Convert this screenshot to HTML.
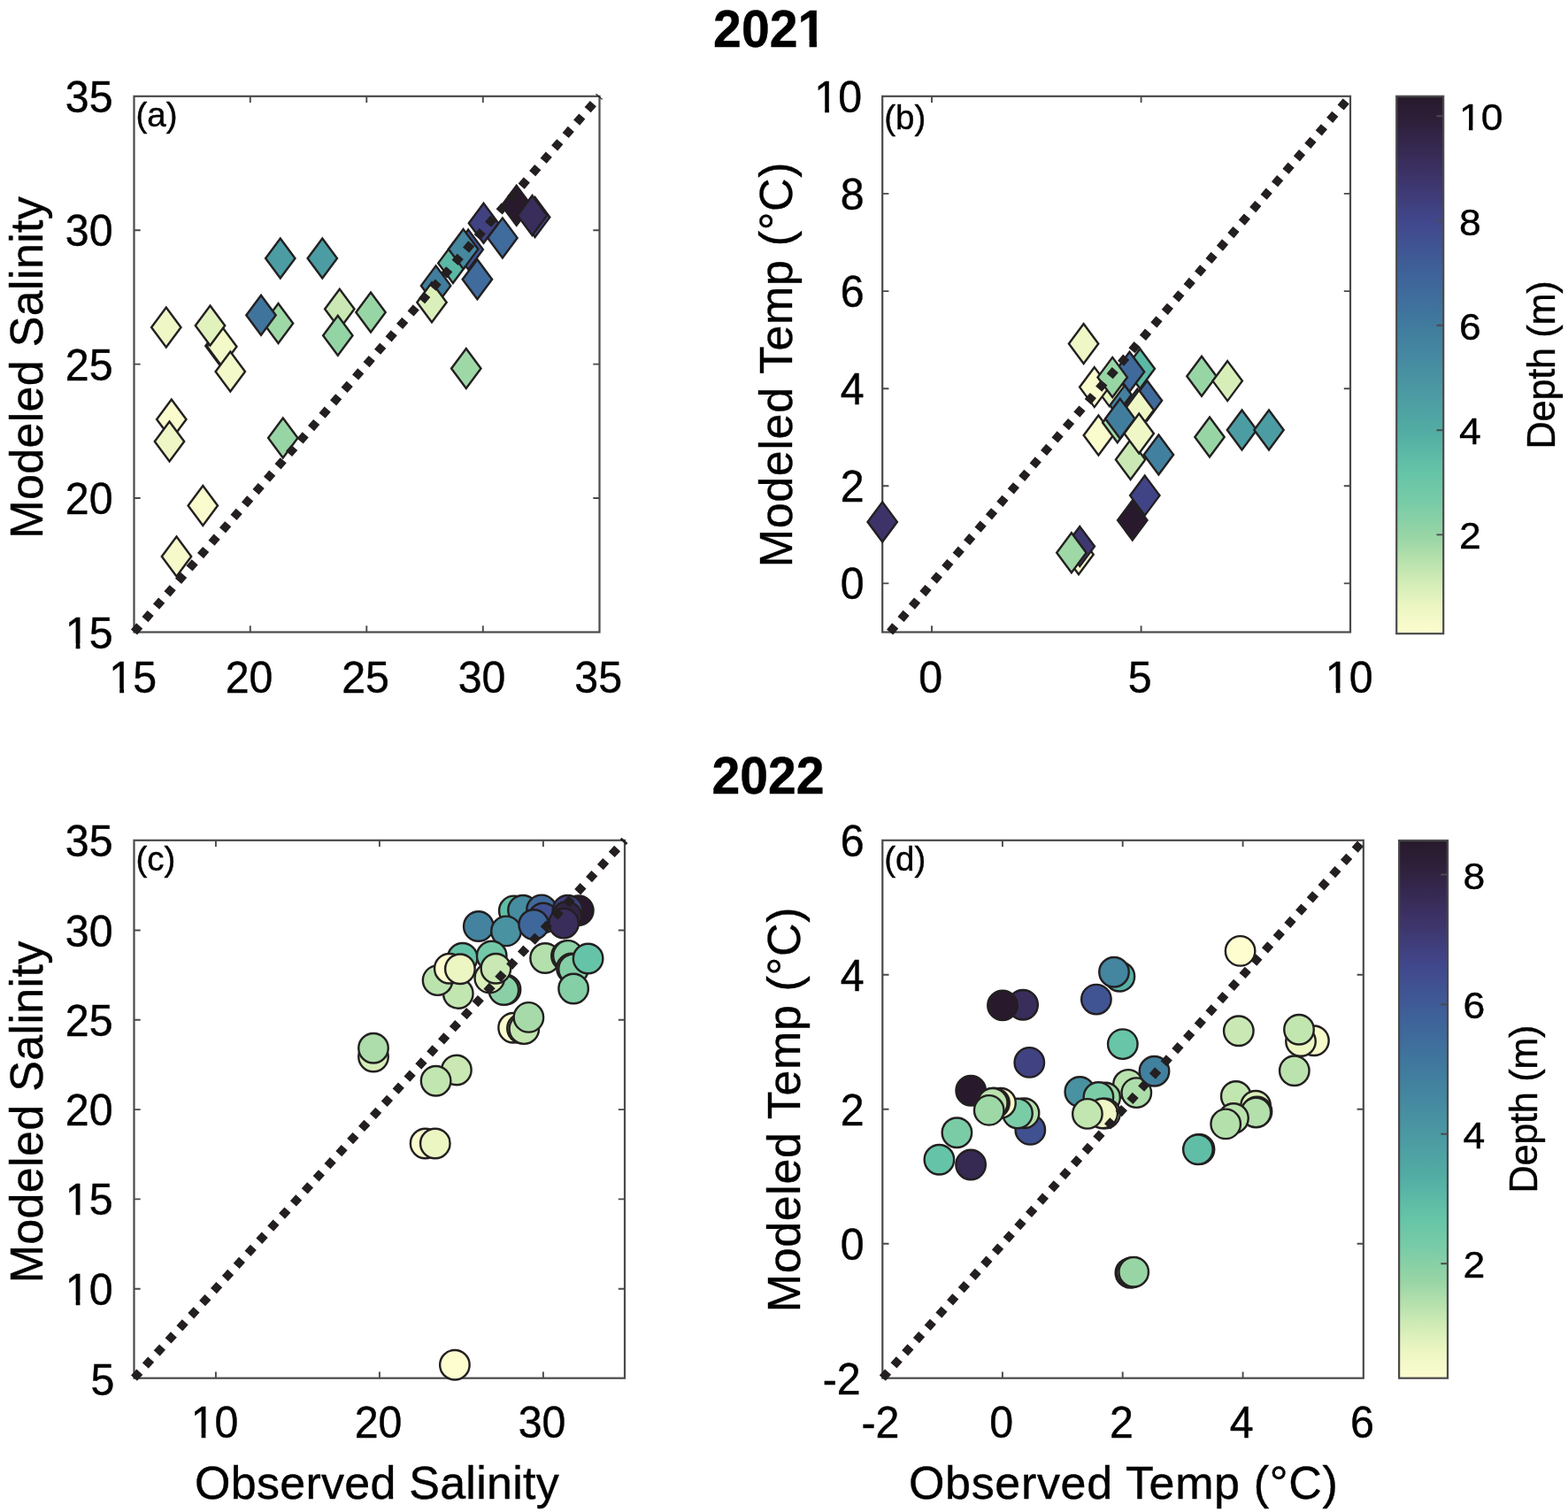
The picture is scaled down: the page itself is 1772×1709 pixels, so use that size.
<!DOCTYPE html>
<html lang="en">
<head>
<meta charset="utf-8">
<title>Modeled vs observed salinity and temperature, 2021 and 2022</title>
<style>
html,body{margin:0;padding:0;background:#fff;}
body{width:1772px;height:1709px;overflow:hidden;}
svg{display:block;}
text{white-space:pre;}
</style>
</head>
<body>
<svg width="1772" height="1709" viewBox="0 0 1772 1709">
<rect width="1772" height="1709" fill="#fff"/>
<g font-family='"Liberation Sans", Arial, Helvetica, sans-serif' fill="#000" stroke="#000" stroke-width="0.4">
<g transform="translate(869.7 52.8) scale(1 1.025)"><text font-size="57.2" text-anchor="middle" font-weight="bold">2021</text><rect x="34.41" y="-7.04" width="10.50" height="8.84" fill="#fff" stroke="none"/><rect x="53.26" y="-7.04" width="9.77" height="8.84" fill="#fff" stroke="none"/></g>
<g transform="translate(868.0 897.1) scale(1 1.025)"><text font-size="57.2" text-anchor="middle" font-weight="bold">2022</text></g>
<rect x="151.5" y="108.8" width="526.00" height="605.70" fill="none" stroke="#4a4a4c" stroke-width="2.2"/>
<path d="M282.8 714.5v-7.2M282.8 108.8v7.2M414.3 714.5v-7.2M414.3 108.8v7.2M545.8 714.5v-7.2M545.8 108.8v7.2M151.5 260.2h7.2M677.5 260.2h-7.2M151.5 411.6h7.2M677.5 411.6h-7.2M151.5 563.0h7.2M677.5 563.0h-7.2" fill="none" stroke="#4a4a4c" stroke-width="1.9"/>
<g transform="translate(150.2 782.65) scale(1 1.04)"><text font-size="48.3" text-anchor="middle" font-weight="normal">15</text><rect x="-24.18" y="-4.81" width="9.22" height="6.61" fill="#fff" stroke="none"/><rect x="-10.20" y="-4.81" width="8.84" height="6.61" fill="#fff" stroke="none"/></g>
<g transform="translate(281.5 782.65) scale(1 1.04)"><text font-size="48.3" text-anchor="middle" font-weight="normal">20</text></g>
<g transform="translate(413.0 782.65) scale(1 1.04)"><text font-size="48.3" text-anchor="middle" font-weight="normal">25</text></g>
<g transform="translate(544.5 782.65) scale(1 1.04)"><text font-size="48.3" text-anchor="middle" font-weight="normal">30</text></g>
<g transform="translate(676.2 782.65) scale(1 1.04)"><text font-size="48.3" text-anchor="middle" font-weight="normal">35</text></g>
<g transform="translate(127.5 126.8) scale(1 1.04)"><text font-size="48.3" text-anchor="end" font-weight="normal">35</text></g>
<g transform="translate(127.5 278.2) scale(1 1.04)"><text font-size="48.3" text-anchor="end" font-weight="normal">30</text></g>
<g transform="translate(127.5 429.6) scale(1 1.04)"><text font-size="48.3" text-anchor="end" font-weight="normal">25</text></g>
<g transform="translate(127.5 581.0) scale(1 1.04)"><text font-size="48.3" text-anchor="end" font-weight="normal">20</text></g>
<g transform="translate(127.5 732.5) scale(1 1.04)"><text font-size="48.3" text-anchor="end" font-weight="normal">15</text><rect x="-51.05" y="-4.81" width="9.22" height="6.61" fill="#fff" stroke="none"/><rect x="-37.06" y="-4.81" width="8.84" height="6.61" fill="#fff" stroke="none"/></g>
<g transform="translate(48 415.3) rotate(-90)"><text font-size="52" text-anchor="middle" font-weight="normal" letter-spacing="0.33">Modeled Salinity</text></g>
<g transform="translate(153.4 142.7)"><text font-size="38.5" text-anchor="start" font-weight="normal">(a)</text></g>
<rect x="997.2" y="108.8" width="528.80" height="605.70" fill="none" stroke="#4a4a4c" stroke-width="2.2"/>
<path d="M1053.0 714.5v-7.2M1053.0 108.8v7.2M1289.6 714.5v-7.2M1289.6 108.8v7.2M997.2 218.9h7.2M1526.0 218.9h-7.2M997.2 329.1h7.2M1526.0 329.1h-7.2M997.2 439.2h7.2M1526.0 439.2h-7.2M997.2 549.3h7.2M1526.0 549.3h-7.2M997.2 659.4h7.2M1526.0 659.4h-7.2" fill="none" stroke="#4a4a4c" stroke-width="1.9"/>
<g transform="translate(1051.7 782.65) scale(1 1.04)"><text font-size="48.3" text-anchor="middle" font-weight="normal">0</text></g>
<g transform="translate(1288.3 782.65) scale(1 1.04)"><text font-size="48.3" text-anchor="middle" font-weight="normal">5</text></g>
<g transform="translate(1524.7 782.65) scale(1 1.04)"><text font-size="48.3" text-anchor="middle" font-weight="normal">10</text><rect x="-24.18" y="-4.81" width="9.22" height="6.61" fill="#fff" stroke="none"/><rect x="-10.20" y="-4.81" width="8.84" height="6.61" fill="#fff" stroke="none"/></g>
<g transform="translate(974.0 126.8) scale(1 1.04)"><text font-size="48.3" text-anchor="end" font-weight="normal">10</text><rect x="-51.05" y="-4.81" width="9.22" height="6.61" fill="#fff" stroke="none"/><rect x="-37.06" y="-4.81" width="8.84" height="6.61" fill="#fff" stroke="none"/></g>
<g transform="translate(976.5 236.9) scale(1 1.04)"><text font-size="48.3" text-anchor="end" font-weight="normal">8</text></g>
<g transform="translate(976.5 347.1) scale(1 1.04)"><text font-size="48.3" text-anchor="end" font-weight="normal">6</text></g>
<g transform="translate(976.5 457.2) scale(1 1.04)"><text font-size="48.3" text-anchor="end" font-weight="normal">4</text></g>
<g transform="translate(976.5 567.3) scale(1 1.04)"><text font-size="48.3" text-anchor="end" font-weight="normal">2</text></g>
<g transform="translate(976.5 677.4) scale(1 1.04)"><text font-size="48.3" text-anchor="end" font-weight="normal">0</text></g>
<g transform="translate(894.8 412.0) rotate(-90)"><text font-size="52" text-anchor="middle" font-weight="normal" letter-spacing="0.64">Modeled Temp (°C)</text></g>
<g transform="translate(999.3 146.2)"><text font-size="38.5" text-anchor="start" font-weight="normal">(b)</text></g>
<rect x="151.5" y="949.8" width="554.50" height="607.90" fill="none" stroke="#4a4a4c" stroke-width="2.2"/>
<path d="M243.9 1557.7v-7.2M243.9 949.8v7.2M428.9 1557.7v-7.2M428.9 949.8v7.2M613.9 1557.7v-7.2M613.9 949.8v7.2M151.5 1051.5h7.2M706.0 1051.5h-7.2M151.5 1152.8h7.2M706.0 1152.8h-7.2M151.5 1254.1h7.2M706.0 1254.1h-7.2M151.5 1355.4h7.2M706.0 1355.4h-7.2M151.5 1456.7h7.2M706.0 1456.7h-7.2" fill="none" stroke="#4a4a4c" stroke-width="1.9"/>
<g transform="translate(242.6 1625.25) scale(1 1.04)"><text font-size="48.3" text-anchor="middle" font-weight="normal">10</text><rect x="-24.18" y="-4.81" width="9.22" height="6.61" fill="#fff" stroke="none"/><rect x="-10.20" y="-4.81" width="8.84" height="6.61" fill="#fff" stroke="none"/></g>
<g transform="translate(427.6 1625.25) scale(1 1.04)"><text font-size="48.3" text-anchor="middle" font-weight="normal">20</text></g>
<g transform="translate(612.6 1625.25) scale(1 1.04)"><text font-size="48.3" text-anchor="middle" font-weight="normal">30</text></g>
<g transform="translate(127.5 967.8) scale(1 1.04)"><text font-size="48.3" text-anchor="end" font-weight="normal">35</text></g>
<g transform="translate(127.5 1069.5) scale(1 1.04)"><text font-size="48.3" text-anchor="end" font-weight="normal">30</text></g>
<g transform="translate(127.5 1170.8) scale(1 1.04)"><text font-size="48.3" text-anchor="end" font-weight="normal">25</text></g>
<g transform="translate(127.5 1272.1) scale(1 1.04)"><text font-size="48.3" text-anchor="end" font-weight="normal">20</text></g>
<g transform="translate(127.5 1373.4) scale(1 1.04)"><text font-size="48.3" text-anchor="end" font-weight="normal">15</text><rect x="-51.05" y="-4.81" width="9.22" height="6.61" fill="#fff" stroke="none"/><rect x="-37.06" y="-4.81" width="8.84" height="6.61" fill="#fff" stroke="none"/></g>
<g transform="translate(127.5 1474.7) scale(1 1.04)"><text font-size="48.3" text-anchor="end" font-weight="normal">10</text><rect x="-51.05" y="-4.81" width="9.22" height="6.61" fill="#fff" stroke="none"/><rect x="-37.06" y="-4.81" width="8.84" height="6.61" fill="#fff" stroke="none"/></g>
<g transform="translate(129.3 1576.7) scale(1 1.04)"><text font-size="48.3" text-anchor="end" font-weight="normal">5</text></g>
<g transform="translate(48 1256.9) rotate(-90)"><text font-size="52" text-anchor="middle" font-weight="normal" letter-spacing="0.33">Modeled Salinity</text></g>
<g transform="translate(426.0 1694.2)"><text font-size="52" text-anchor="middle" font-weight="normal" letter-spacing="0.25">Observed Salinity</text></g>
<g transform="translate(153.4 984.2)"><text font-size="38.5" text-anchor="start" font-weight="normal">(c)</text></g>
<rect x="997.3" y="949.8" width="543.50" height="607.90" fill="none" stroke="#4a4a4c" stroke-width="2.2"/>
<path d="M1132.9 1557.7v-7.2M1132.9 949.8v7.2M1268.7 1557.7v-7.2M1268.7 949.8v7.2M1404.6 1557.7v-7.2M1404.6 949.8v7.2M997.3 1101.8h7.2M1540.8 1101.8h-7.2M997.3 1253.8h7.2M1540.8 1253.8h-7.2M997.3 1405.7h7.2M1540.8 1405.7h-7.2" fill="none" stroke="#4a4a4c" stroke-width="1.9"/>
<g transform="translate(995.0 1625.25) scale(1 1.04)"><text font-size="48.3" text-anchor="middle" font-weight="normal">-2</text></g>
<g transform="translate(1131.6 1625.25) scale(1 1.04)"><text font-size="48.3" text-anchor="middle" font-weight="normal">0</text></g>
<g transform="translate(1267.4 1625.25) scale(1 1.04)"><text font-size="48.3" text-anchor="middle" font-weight="normal">2</text></g>
<g transform="translate(1403.3 1625.25) scale(1 1.04)"><text font-size="48.3" text-anchor="middle" font-weight="normal">4</text></g>
<g transform="translate(1539.5 1625.25) scale(1 1.04)"><text font-size="48.3" text-anchor="middle" font-weight="normal">6</text></g>
<g transform="translate(976.5 967.8) scale(1 1.04)"><text font-size="48.3" text-anchor="end" font-weight="normal">6</text></g>
<g transform="translate(976.5 1119.8) scale(1 1.04)"><text font-size="48.3" text-anchor="end" font-weight="normal">4</text></g>
<g transform="translate(976.5 1271.8) scale(1 1.04)"><text font-size="48.3" text-anchor="end" font-weight="normal">2</text></g>
<g transform="translate(976.5 1423.7) scale(1 1.04)"><text font-size="48.3" text-anchor="end" font-weight="normal">0</text></g>
<g transform="translate(972.7 1575.7) scale(1 1.04)"><text font-size="48.3" text-anchor="end" font-weight="normal">-2</text></g>
<g transform="translate(904.4 1254.1) rotate(-90)"><text font-size="52" text-anchor="middle" font-weight="normal" letter-spacing="0.64">Modeled Temp (°C)</text></g>
<g transform="translate(1269.7 1694.2)"><text font-size="52" text-anchor="middle" font-weight="normal" letter-spacing="0.66">Observed Temp (°C)</text></g>
<g transform="translate(999.3 984.2)"><text font-size="38.5" text-anchor="start" font-weight="normal">(d)</text></g>
<defs><linearGradient id="g1578108" x1="0" y1="1" x2="0" y2="0"><stop offset="0.000" stop-color="#fdfdd0"/><stop offset="0.050" stop-color="#ecf6c3"/><stop offset="0.100" stop-color="#d0ebb5"/><stop offset="0.140" stop-color="#b4e0ac"/><stop offset="0.180" stop-color="#98d5a5"/><stop offset="0.240" stop-color="#7acca7"/><stop offset="0.300" stop-color="#65c4a7"/><stop offset="0.377" stop-color="#52aca4"/><stop offset="0.470" stop-color="#4994a2"/><stop offset="0.572" stop-color="#407b9e"/><stop offset="0.670" stop-color="#3e629a"/><stop offset="0.767" stop-color="#41478c"/><stop offset="0.860" stop-color="#3c3164"/><stop offset="0.960" stop-color="#2d1e37"/><stop offset="1.000" stop-color="#281a2c"/></linearGradient></defs>
<rect x="1578.2" y="108.8" width="53.00" height="607.40" fill="url(#g1578108)" stroke="#4a4a4c" stroke-width="2.2"/>
<path d="M1631.2 131.2h-7.7M1631.2 249.6h-7.7M1631.2 367.8h-7.7M1631.2 486.2h-7.7M1631.2 604.4h-7.7" fill="none" stroke="#4a4a4c" stroke-width="1.9"/>
<g transform="translate(1649 147.2) scale(1 0.95)"><text font-size="44.5" text-anchor="start" font-weight="normal">10</text><rect x="2.39" y="-4.52" width="8.55" height="6.32" fill="#fff" stroke="none"/><rect x="15.37" y="-4.52" width="8.20" height="6.32" fill="#fff" stroke="none"/></g>
<g transform="translate(1649 265.6) scale(1 0.95)"><text font-size="44.5" text-anchor="start" font-weight="normal">8</text></g>
<g transform="translate(1649 383.8) scale(1 0.95)"><text font-size="44.5" text-anchor="start" font-weight="normal">6</text></g>
<g transform="translate(1649 502.2) scale(1 0.95)"><text font-size="44.5" text-anchor="start" font-weight="normal">4</text></g>
<g transform="translate(1649 620.4) scale(1 0.95)"><text font-size="44.5" text-anchor="start" font-weight="normal">2</text></g>
<g transform="translate(1756.6 412.5) rotate(-90)"><text font-size="43.5" text-anchor="middle" font-weight="normal" letter-spacing="-0.4">Depth (m)</text></g>
<defs><linearGradient id="g1581950" x1="0" y1="1" x2="0" y2="0"><stop offset="0.000" stop-color="#fdfdd0"/><stop offset="0.050" stop-color="#ecf6c3"/><stop offset="0.100" stop-color="#d0ebb5"/><stop offset="0.140" stop-color="#b4e0ac"/><stop offset="0.180" stop-color="#98d5a5"/><stop offset="0.240" stop-color="#7acca7"/><stop offset="0.300" stop-color="#65c4a7"/><stop offset="0.377" stop-color="#52aca4"/><stop offset="0.470" stop-color="#4994a2"/><stop offset="0.572" stop-color="#407b9e"/><stop offset="0.670" stop-color="#3e629a"/><stop offset="0.767" stop-color="#41478c"/><stop offset="0.860" stop-color="#3c3164"/><stop offset="0.960" stop-color="#2d1e37"/><stop offset="1.000" stop-color="#281a2c"/></linearGradient></defs>
<rect x="1581.1" y="950.0" width="54.90" height="607.70" fill="url(#g1581950)" stroke="#4a4a4c" stroke-width="2.2"/>
<path d="M1636.0 988.5h-7.7M1636.0 1135.2h-7.7M1636.0 1281.7h-7.7M1636.0 1428.3h-7.7" fill="none" stroke="#4a4a4c" stroke-width="1.9"/>
<g transform="translate(1653.5 1004.5) scale(1 0.95)"><text font-size="44.5" text-anchor="start" font-weight="normal">8</text></g>
<g transform="translate(1653.5 1151.2) scale(1 0.95)"><text font-size="44.5" text-anchor="start" font-weight="normal">6</text></g>
<g transform="translate(1653.5 1297.7) scale(1 0.95)"><text font-size="44.5" text-anchor="start" font-weight="normal">4</text></g>
<g transform="translate(1653.5 1444.3) scale(1 0.95)"><text font-size="44.5" text-anchor="start" font-weight="normal">2</text></g>
<g transform="translate(1736.6 1253.7) rotate(-90)"><text font-size="43.5" text-anchor="middle" font-weight="normal" letter-spacing="-0.4">Depth (m)</text></g>
</g>
<g stroke="#231f20" stroke-width="2.4" stroke-linejoin="miter">
<path d="M187.8 347.5l16.7 22.5l-16.7 22.5l-16.7 -22.5z" fill="#eff7c6"/>
<path d="M249.0 368.5l16.7 22.5l-16.7 22.5l-16.7 -22.5z" fill="#f3f9c8"/>
<path d="M250.8 369.3l16.7 22.5l-16.7 22.5l-16.7 -22.5z" fill="#f3f9c8"/>
<path d="M237.5 345.5l16.7 22.5l-16.7 22.5l-16.7 -22.5z" fill="#e1f2bd"/>
<path d="M260.3 397.5l16.7 22.5l-16.7 22.5l-16.7 -22.5z" fill="#f3f9c8"/>
<path d="M314.5 343.0l16.7 22.5l-16.7 22.5l-16.7 -22.5z" fill="#9fd8a7"/>
<path d="M295.0 333.8l16.7 22.5l-16.7 22.5l-16.7 -22.5z" fill="#3f749d"/>
<path d="M316.8 269.5l16.7 22.5l-16.7 22.5l-16.7 -22.5z" fill="#4c9ca3"/>
<path d="M364.3 269.5l16.7 22.5l-16.7 22.5l-16.7 -22.5z" fill="#4c9ca3"/>
<path d="M383.8 326.8l16.7 22.5l-16.7 22.5l-16.7 -22.5z" fill="#c9e8b3"/>
<path d="M381.8 356.8l16.7 22.5l-16.7 22.5l-16.7 -22.5z" fill="#93d4a5"/>
<path d="M419.0 330.5l16.7 22.5l-16.7 22.5l-16.7 -22.5z" fill="#98d5a5"/>
<path d="M193.8 451.5l16.7 22.5l-16.7 22.5l-16.7 -22.5z" fill="#fafccd"/>
<path d="M191.5 476.5l16.7 22.5l-16.7 22.5l-16.7 -22.5z" fill="#eff7c6"/>
<path d="M229.3 549.0l16.7 22.5l-16.7 22.5l-16.7 -22.5z" fill="#fafccd"/>
<path d="M199.5 606.5l16.7 22.5l-16.7 22.5l-16.7 -22.5z" fill="#f6facb"/>
<path d="M319.8 472.5l16.7 22.5l-16.7 22.5l-16.7 -22.5z" fill="#98d5a5"/>
<path d="M526.8 394.0l16.7 22.5l-16.7 22.5l-16.7 -22.5z" fill="#9fd8a7"/>
<path d="M492.6 300.4l16.7 22.5l-16.7 22.5l-16.7 -22.5z" fill="#417e9e"/>
<path d="M488.0 319.2l16.7 22.5l-16.7 22.5l-16.7 -22.5z" fill="#dbefbb"/>
<path d="M511.9 274.9l16.7 22.5l-16.7 22.5l-16.7 -22.5z" fill="#5bb8a5"/>
<path d="M529.2 259.6l16.7 22.5l-16.7 22.5l-16.7 -22.5z" fill="#405493"/>
<path d="M523.6 259.1l16.7 22.5l-16.7 22.5l-16.7 -22.5z" fill="#4588a0"/>
<path d="M539.4 293.2l16.7 22.5l-16.7 22.5l-16.7 -22.5z" fill="#3f6c9c"/>
<path d="M546.5 229.8l16.7 22.5l-16.7 22.5l-16.7 -22.5z" fill="#404282"/>
<path d="M567.9 246.4l16.7 22.5l-16.7 22.5l-16.7 -22.5z" fill="#3f6c9c"/>
<path d="M583.7 209.8l16.7 22.5l-16.7 22.5l-16.7 -22.5z" fill="#281a2c"/>
<path d="M604.6 223.0l16.7 22.5l-16.7 22.5l-16.7 -22.5z" fill="#41498d"/>
<path d="M601.5 221.0l16.7 22.5l-16.7 22.5l-16.7 -22.5z" fill="#392d5b"/>
<path d="M997.2 567.4l16.7 22.5l-16.7 22.5l-16.7 -22.5z" fill="#3d3368"/>
<path d="M1224.6 366.0l16.7 22.5l-16.7 22.5l-16.7 -22.5z" fill="#eff7c6"/>
<path d="M1262.0 423.5l16.7 22.5l-16.7 22.5l-16.7 -22.5z" fill="#42809f"/>
<path d="M1253.6 414.1l16.7 22.5l-16.7 22.5l-16.7 -22.5z" fill="#e6f4c0"/>
<path d="M1236.8 415.1l16.7 22.5l-16.7 22.5l-16.7 -22.5z" fill="#fafccd"/>
<path d="M1288.3 394.2l16.7 22.5l-16.7 22.5l-16.7 -22.5z" fill="#5bb8a5"/>
<path d="M1276.5 397.8l16.7 22.5l-16.7 22.5l-16.7 -22.5z" fill="#3f6a9b"/>
<path d="M1257.2 403.9l16.7 22.5l-16.7 22.5l-16.7 -22.5z" fill="#98d5a5"/>
<path d="M1296.4 430.3l16.7 22.5l-16.7 22.5l-16.7 -22.5z" fill="#3f6a9b"/>
<path d="M1285.2 439.8l16.7 22.5l-16.7 22.5l-16.7 -22.5z" fill="#3f749d"/>
<path d="M1287.2 441.0l16.7 22.5l-16.7 22.5l-16.7 -22.5z" fill="#eff7c6"/>
<path d="M1241.4 469.5l16.7 22.5l-16.7 22.5l-16.7 -22.5z" fill="#fafccd"/>
<path d="M1262.8 455.3l16.7 22.5l-16.7 22.5l-16.7 -22.5z" fill="#9fd8a7"/>
<path d="M1265.8 450.7l16.7 22.5l-16.7 22.5l-16.7 -22.5z" fill="#417e9e"/>
<path d="M1277.6 497.0l16.7 22.5l-16.7 22.5l-16.7 -22.5z" fill="#c9e8b3"/>
<path d="M1287.2 467.5l16.7 22.5l-16.7 22.5l-16.7 -22.5z" fill="#eff7c6"/>
<path d="M1309.4 491.5l16.7 22.5l-16.7 22.5l-16.7 -22.5z" fill="#42809f"/>
<path d="M1358.0 402.8l16.7 22.5l-16.7 22.5l-16.7 -22.5z" fill="#98d5a5"/>
<path d="M1387.2 408.1l16.7 22.5l-16.7 22.5l-16.7 -22.5z" fill="#d8eeb9"/>
<path d="M1367.0 471.5l16.7 22.5l-16.7 22.5l-16.7 -22.5z" fill="#98d5a5"/>
<path d="M1403.5 463.5l16.7 22.5l-16.7 22.5l-16.7 -22.5z" fill="#4c9ca3"/>
<path d="M1434.0 463.5l16.7 22.5l-16.7 22.5l-16.7 -22.5z" fill="#4c9ca3"/>
<path d="M1293.8 537.6l16.7 22.5l-16.7 22.5l-16.7 -22.5z" fill="#404486"/>
<path d="M1279.8 565.6l16.7 22.5l-16.7 22.5l-16.7 -22.5z" fill="#281a2c"/>
<path d="M1219.0 604.3l16.7 22.5l-16.7 22.5l-16.7 -22.5z" fill="#fafccd"/>
<path d="M1220.3 595.1l16.7 22.5l-16.7 22.5l-16.7 -22.5z" fill="#3e3871"/>
<path d="M1210.9 602.2l16.7 22.5l-16.7 22.5l-16.7 -22.5z" fill="#9fd8a7"/>
<circle cx="422.0" cy="1194.5" r="16.75" fill="#d6edb8"/>
<circle cx="422.0" cy="1184.8" r="16.75" fill="#adddaa"/>
<circle cx="480.6" cy="1292.5" r="16.75" fill="#fafccd"/>
<circle cx="491.8" cy="1292.5" r="16.75" fill="#ecf6c3"/>
<circle cx="513.9" cy="1542.7" r="16.75" fill="#fdfdd0"/>
<circle cx="515.9" cy="1209.5" r="16.75" fill="#c9e8b3"/>
<circle cx="492.6" cy="1221.8" r="16.75" fill="#c2e6b0"/>
<circle cx="580.8" cy="1029.4" r="16.75" fill="#60bea6"/>
<circle cx="591.0" cy="1028.7" r="16.75" fill="#468da1"/>
<circle cx="540.8" cy="1047.0" r="16.75" fill="#43839f"/>
<circle cx="572.0" cy="1052.4" r="16.75" fill="#4892a2"/>
<circle cx="612.0" cy="1028.4" r="16.75" fill="#3f6a9b"/>
<circle cx="614.0" cy="1037.5" r="16.75" fill="#404f90"/>
<circle cx="603.2" cy="1045.0" r="16.75" fill="#3e679b"/>
<circle cx="653.8" cy="1029.1" r="16.75" fill="#281a2c"/>
<circle cx="641.5" cy="1028.7" r="16.75" fill="#3f3f7e"/>
<circle cx="640.5" cy="1036.0" r="16.75" fill="#312444"/>
<circle cx="637.1" cy="1043.6" r="16.75" fill="#392d5b"/>
<circle cx="522.7" cy="1082.7" r="16.75" fill="#65c4a7"/>
<circle cx="555.7" cy="1080.5" r="16.75" fill="#73c9a7"/>
<circle cx="517.8" cy="1123.0" r="16.75" fill="#c2e6b0"/>
<circle cx="494.6" cy="1108.1" r="16.75" fill="#bbe3ae"/>
<circle cx="507.8" cy="1094.8" r="16.75" fill="#fdfdd0"/>
<circle cx="519.9" cy="1095.2" r="16.75" fill="#ecf6c3"/>
<circle cx="571.5" cy="1118.5" r="16.75" fill="#8ed2a6"/>
<circle cx="569.3" cy="1119.0" r="16.75" fill="#89d0a6"/>
<circle cx="553.3" cy="1105.4" r="16.75" fill="#dbefbb"/>
<circle cx="560.4" cy="1094.8" r="16.75" fill="#c9e8b3"/>
<circle cx="616.1" cy="1083.0" r="16.75" fill="#b4e0ac"/>
<circle cx="640.0" cy="1080.5" r="16.75" fill="#d0ebb5"/>
<circle cx="641.9" cy="1079.9" r="16.75" fill="#8ed2a6"/>
<circle cx="646.0" cy="1094.5" r="16.75" fill="#c2e6b0"/>
<circle cx="648.0" cy="1095.2" r="16.75" fill="#84cfa6"/>
<circle cx="648.1" cy="1117.5" r="16.75" fill="#84cfa6"/>
<circle cx="664.6" cy="1083.5" r="16.75" fill="#65c4a7"/>
<circle cx="580.1" cy="1161.7" r="16.75" fill="#fafccd"/>
<circle cx="590.0" cy="1162.5" r="16.75" fill="#d0ebb5"/>
<circle cx="592.3" cy="1163.1" r="16.75" fill="#c2e6b0"/>
<circle cx="597.4" cy="1149.9" r="16.75" fill="#a6daa8"/>
<circle cx="1156.1" cy="1135.7" r="16.75" fill="#392d5b"/>
<circle cx="1133.0" cy="1136.4" r="16.75" fill="#281a2c"/>
<circle cx="1238.9" cy="1129.6" r="16.75" fill="#405493"/>
<circle cx="1163.3" cy="1200.9" r="16.75" fill="#404282"/>
<circle cx="1097.2" cy="1232.8" r="16.75" fill="#281a2c"/>
<circle cx="1164.3" cy="1276.9" r="16.75" fill="#405191"/>
<circle cx="1157.5" cy="1258.3" r="16.75" fill="#b4e0ac"/>
<circle cx="1150.0" cy="1258.5" r="16.75" fill="#7acca7"/>
<circle cx="1131.0" cy="1246.7" r="16.75" fill="#fafccd"/>
<circle cx="1124.0" cy="1246.7" r="16.75" fill="#d0ebb5"/>
<circle cx="1122.8" cy="1246.7" r="16.75" fill="#c2e6b0"/>
<circle cx="1121.8" cy="1246.7" r="16.75" fill="#bbe3ae"/>
<circle cx="1117.7" cy="1254.9" r="16.75" fill="#9fd8a7"/>
<circle cx="1081.4" cy="1280.3" r="16.75" fill="#7acca7"/>
<circle cx="1061.4" cy="1310.8" r="16.75" fill="#65c4a7"/>
<circle cx="1097.1" cy="1316.5" r="16.75" fill="#362952"/>
<circle cx="1265.4" cy="1103.8" r="16.75" fill="#56b1a5"/>
<circle cx="1259.0" cy="1098.7" r="16.75" fill="#4485a0"/>
<circle cx="1268.8" cy="1180.1" r="16.75" fill="#68c5a7"/>
<circle cx="1274.9" cy="1225.9" r="16.75" fill="#bbe3ae"/>
<circle cx="1284.3" cy="1235.1" r="16.75" fill="#adddaa"/>
<circle cx="1304.5" cy="1210.7" r="16.75" fill="#42809f"/>
<circle cx="1220.3" cy="1234.0" r="16.75" fill="#4892a2"/>
<circle cx="1249.1" cy="1240.5" r="16.75" fill="#9fd8a7"/>
<circle cx="1241.4" cy="1240.0" r="16.75" fill="#7acca7"/>
<circle cx="1249.0" cy="1258.5" r="16.75" fill="#f3f9c8"/>
<circle cx="1246.2" cy="1258.5" r="16.75" fill="#eff7c6"/>
<circle cx="1228.9" cy="1258.9" r="16.75" fill="#c2e6b0"/>
<circle cx="1401.6" cy="1074.9" r="16.75" fill="#fdfdd0"/>
<circle cx="1399.8" cy="1165.2" r="16.75" fill="#c9e8b3"/>
<circle cx="1484.9" cy="1176.3" r="16.75" fill="#f6facb"/>
<circle cx="1470.0" cy="1177.0" r="16.75" fill="#ecf6c3"/>
<circle cx="1468.0" cy="1163.8" r="16.75" fill="#c2e6b0"/>
<circle cx="1462.8" cy="1210.2" r="16.75" fill="#bbe3ae"/>
<circle cx="1396.8" cy="1239.0" r="16.75" fill="#c2e6b0"/>
<circle cx="1419.1" cy="1249.7" r="16.75" fill="#dbefbb"/>
<circle cx="1420.5" cy="1256.5" r="16.75" fill="#b4e0ac"/>
<circle cx="1419.4" cy="1257.5" r="16.75" fill="#b4e0ac"/>
<circle cx="1394.0" cy="1264.0" r="16.75" fill="#bbe3ae"/>
<circle cx="1385.2" cy="1270.4" r="16.75" fill="#b4e0ac"/>
<circle cx="1355.5" cy="1299.0" r="16.75" fill="#60bea6"/>
<circle cx="1353.9" cy="1299.3" r="16.75" fill="#60bea6"/>
<circle cx="1277.4" cy="1438.8" r="16.75" fill="#e1f2bd"/>
<circle cx="1279.0" cy="1438.3" r="16.75" fill="#d0ebb5"/>
<circle cx="1281.2" cy="1437.7" r="16.75" fill="#98d5a5"/>
</g>
<path d="M151.5 714.5L677.5 108.8" fill="none" stroke="#231f20" stroke-width="9.4" stroke-dasharray="9.4 9.67"/>
<path d="M1005.6 714.5L1526.0 108.8" fill="none" stroke="#231f20" stroke-width="9.4" stroke-dasharray="9.4 9.67"/>
<path d="M151.5 1557.7L706.0 949.8" fill="none" stroke="#231f20" stroke-width="9.4" stroke-dasharray="9.4 9.67"/>
<path d="M997.3 1557.7L1540.8 949.8" fill="none" stroke="#231f20" stroke-width="9.4" stroke-dasharray="9.4 9.67"/>
</svg>
</body>
</html>
